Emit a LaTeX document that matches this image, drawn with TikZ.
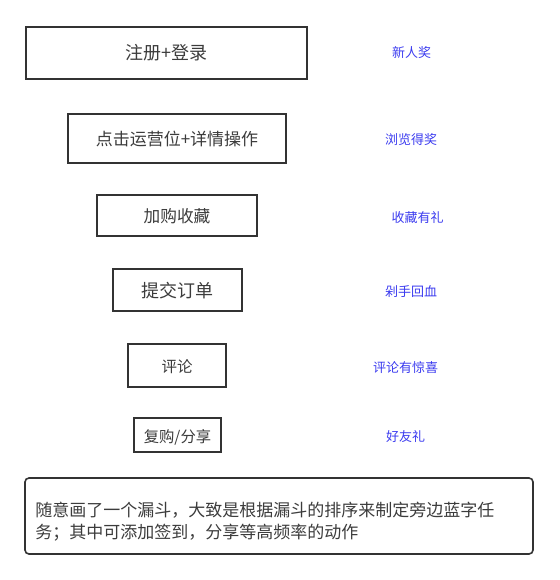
\documentclass[tikz,border=0pt]{standalone}
\usepackage{fontspec}
\setmainfont{Noto Sans CJK SC}
\definecolor{boxline}{RGB}{51,51,51}
\definecolor{boxtext}{RGB}{60,60,60}
\definecolor{bluetext}{RGB}{60,60,240}
\begin{document}
\begin{tikzpicture}[x=0.75pt,y=-0.75pt,
  stage/.style={draw=boxline,line width=1.5pt,fill=white,inner sep=0pt,text=boxtext,text height=1.15em,text depth=0.1em},
  reward/.style={inner sep=0pt,text=bluetext,font=\fontsize{9.75pt}{12pt}\selectfont},
  notebox/.style={draw=boxline,line width=1.2pt,rounded corners=3pt,inner sep=0pt},
  notetext/.style={inner sep=0pt,anchor=west,align=left,text=boxtext,font=\fontsize{12.75pt}{16.5pt}\selectfont}]
\useasboundingbox[fill=white] (0,0) rectangle (559,580);
\node[stage,minimum width=210.75pt,minimum height=39pt,font=\fontsize{13.5pt}{16pt}\selectfont] (s1) at (166.5,53) {注册+登录};
\node[stage,minimum width=163.5pt,minimum height=36.75pt,font=\fontsize{12.75pt}{16pt}\selectfont] (s2) at (177,138.5) {点击运营位+详情操作};
\node[stage,minimum width=120pt,minimum height=30.75pt,font=\fontsize{12.5pt}{15pt}\selectfont] (s3) at (177,215.5) {加购收藏};
\node[stage,minimum width=96.75pt,minimum height=31.5pt,font=\fontsize{13.5pt}{16pt}\selectfont] (s4) at (177.5,290) {提交订单};
\node[stage,minimum width=73.5pt,minimum height=32.25pt,font=\fontsize{11.6pt}{14pt}\selectfont] (s5) at (177,365.5) {评论};
\node[stage,minimum width=65.25pt,minimum height=25.5pt,font=\fontsize{11.5pt}{14pt}\selectfont] (s6) at (177.5,435) {复购/分享};
\node[reward] (r1) at (411.5,53) {新人奖};
\node[reward] (r2) at (411,140) {浏览得奖};
\node[reward] (r3) at (417.5,218) {收藏有礼};
\node[reward] (r4) at (411,292) {剁手回血};
\node[reward] (r5) at (405.5,368) {评论有惊喜};
\node[reward] (r6) at (405.5,437) {好友礼};
\node[notebox,minimum width=381pt,minimum height=57pt] (note) at (279,516) {};
\node[notetext] (notetxt) at (35,522) {随意画了一个漏斗，大致是根据漏斗的排序来制定旁边蓝字任\\务；其中可添加签到，分享等高频率的动作};
\end{tikzpicture}
\end{document}
